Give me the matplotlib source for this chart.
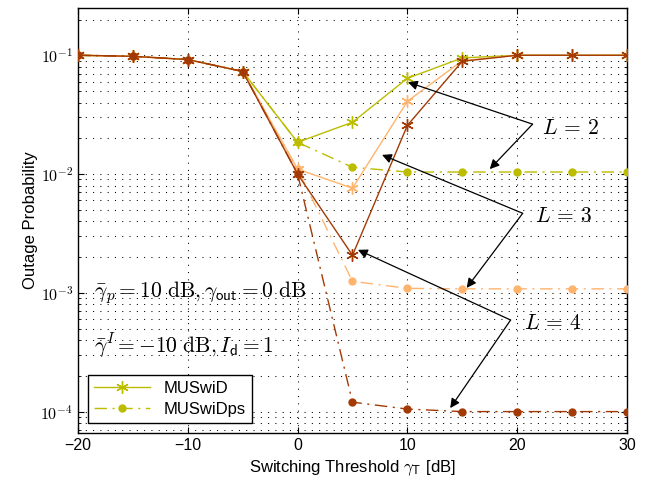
import numpy as np
import matplotlib
matplotlib.use("Agg")
import matplotlib.pyplot as plt
from matplotlib.ticker import FixedLocator, LogLocator, NullFormatter

plt.rcParams["font.family"] = ["Liberation Sans", "DejaVu Sans"]
plt.rcParams["mathtext.fontset"] = "cm"

# switching threshold [dB]
gamma_t = [-20, -15, -10, -5, 0, 5, 10, 15, 20, 25, 30]

# outage probability, MUSwiD (solid) and MUSwiDps (dash-dot), per number of users L
swid = {
    2: [0.100, 0.098, 0.092, 0.073, 0.0185, 0.0273, 0.064, 0.095, 0.100, 0.100, 0.100],
    3: [0.100, 0.098, 0.092, 0.073, 0.0110, 0.0076, 0.041, 0.090, 0.100, 0.100, 0.100],
    4: [0.100, 0.098, 0.092, 0.073, 0.0100, 0.00207, 0.0257, 0.089, 0.100, 0.100, 0.100],
}
swidps = {
    2: [0.100, 0.098, 0.092, 0.073, 0.0185, 0.0114, 0.0104, 0.0104, 0.0104, 0.0104, 0.0104],
    3: [0.100, 0.098, 0.092, 0.073, 0.0110, 0.00125, 0.00109, 0.00108, 0.00108, 0.00108, 0.00108],
    4: [0.100, 0.098, 0.092, 0.073, 0.0100, 0.000120, 0.000105, 0.000100, 0.000100, 0.000100, 0.000100],
}
colors = {2: "#bcbc00", 3: "#ffb46e", 4: "#a33a05"}

fig = plt.figure(figsize=(6.46, 4.91), dpi=100)
ax = fig.add_axes([0.1207, 0.1181, 0.8499, 0.8656])

asterisk = (6, 2, 0)
for L in [2, 3, 4]:
    ax.semilogy(gamma_t, swid[L], "-", marker=asterisk, color=colors[L], lw=1.0, ms=9,
                mew=1.0, label="MUSwiD" if L == 2 else None, zorder=3)
    ax.semilogy(gamma_t, swidps[L], "-.", marker="o", color=colors[L], lw=1.0, ms=5,
                dashes=(9, 4, 1.5, 4), label="MUSwiDps" if L == 2 else None, zorder=3)

ax.set_xlim(-20, 30)
ax.set_ylim(6.6e-5, 0.25)
ax.xaxis.set_major_locator(FixedLocator([-20, -10, 0, 10, 20, 30]))
ax.yaxis.set_major_locator(FixedLocator([1e-4, 1e-3, 1e-2, 1e-1]))
ax.yaxis.set_minor_locator(LogLocator(base=10, subs=np.arange(2, 10)))
ax.yaxis.set_minor_formatter(NullFormatter())
ax.set_yticklabels([r"$\mathsf{10^{-4}}$", r"$\mathsf{10^{-3}}$",
                    r"$\mathsf{10^{-2}}$", r"$\mathsf{10^{-1}}$"])
ax.set_xticklabels(["\u221220", "\u221210", "0", "10", "20", "30"])
ax.tick_params(which="both", direction="in", top=True, right=True, labelsize=11.5)
ax.tick_params(which="major", length=4)
ax.tick_params(which="minor", length=2.5)
ax.grid(True, which="major", ls=(0, (1, 6)), color="k", lw=0.75)
ax.grid(True, which="minor", axis="y", ls=(0, (1, 6)), color="k", lw=0.75)
for s in ax.spines.values():
    s.set_linewidth(1.0)

ax.set_xlabel(r"Switching Threshold $\gamma_\mathsf{T}$ [dB]", fontsize=12)
ax.set_ylabel("Outage Probability", fontsize=12, labelpad=2)

ax.text(-18.5, 1.0e-3, r"$\bar{\gamma}_p = 10\ \mathrm{dB}, \gamma_{\mathsf{out}} = 0\ \mathrm{dB}$",
        fontsize=15.5, va="center", ha="left")
ax.text(-18.5, 3.6e-4, r"$\bar{\gamma}^I = -10\ \mathrm{dB}, I_{\mathsf{d}} = 1$",
        fontsize=15.5, va="center", ha="left")

# L labels with their arrows: (label pos, arrow start, arrow tips)
notes = [
    (2, (22.3, 0.0243), (21.4, 0.0263), [(10.05, 0.0593), (17.5, 0.011)]),
    (3, (21.6, 0.00443), (20.5, 0.00467), [(7.69, 0.0145), (15.4, 0.0011)]),
    (4, (20.6, 0.000547), (19.4, 0.00059), [(5.5, 0.0023), (13.9, 0.000107)]),
]
for L, tpos, start, tips in notes:
    ax.text(tpos[0], tpos[1], r"$L\,=\,%d$" % L, fontsize=15.5, va="center", ha="left")
    for tip in tips:
        ax.annotate("", xy=tip, xytext=start,
                    arrowprops=dict(arrowstyle="-|>", color="k", lw=0.9,
                                    mutation_scale=14, shrinkA=0, shrinkB=0))

leg = ax.legend(loc="lower left", bbox_to_anchor=(0.018, 0.024), borderaxespad=0,
                fontsize=12, fancybox=False, edgecolor="k", framealpha=1,
                handlelength=3.4, borderpad=0.35, labelspacing=0.35)
leg.get_frame().set_linewidth(1.0)

fig.savefig("out.png", dpi=100)
